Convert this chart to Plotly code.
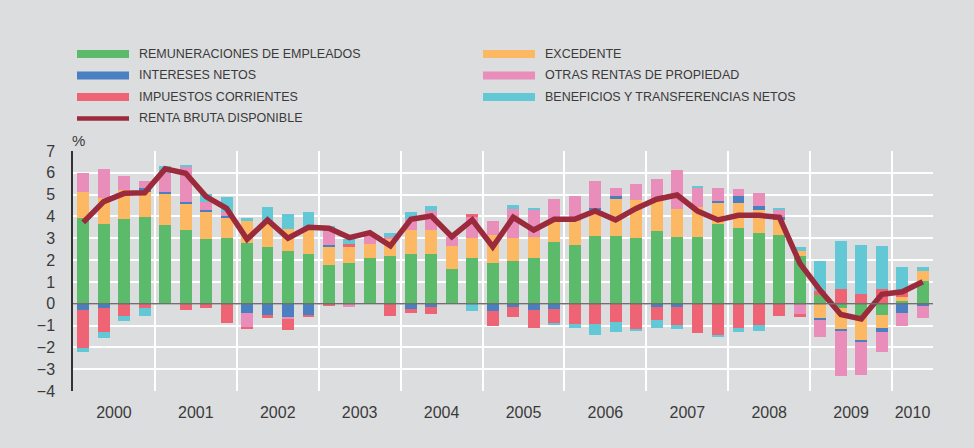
import plotly.graph_objects as go

# ---------------- data (percent contributions, quarterly 2000Q1-2010Q2) ----------------
quarters = [f"{y}Q{q}" for y in range(2000, 2011) for q in range(1, 5)][:42]

remuneraciones = [3.94, 3.64, 3.87, 3.98, 3.61, 3.38, 2.97, 3.01, 2.80, 2.61, 2.40, 2.29,
                  1.77, 1.87, 2.08, 2.20, 2.29, 2.29, 1.61, 2.08, 1.88, 1.97, 2.09, 2.83,
                  2.69, 3.10, 3.10, 3.01, 3.35, 3.06, 3.06, 3.65, 3.47, 3.24, 3.13, 2.20,
                  0.40, -0.18, -0.55, -0.52, 0.12, 1.04]
excedente = [1.17, 1.19, 1.34, 1.16, 1.41, 1.22, 1.27, 0.93, 0.98, 1.15, 1.01, 1.09,
             0.84, 0.74, 0.67, 0.77, 1.09, 1.09, 1.05, 0.95, 1.29, 1.06, 0.97, 0.95,
             1.12, 1.23, 1.69, 1.75, 1.47, 1.30, 1.37, 0.97, 1.15, 1.06, 0.71, 0.22,
             -0.67, -0.97, -1.09, -0.61, 0.20, 0.46]
intereses = [-0.29, -0.18, 0.00, 0.18, 0.10, 0.08, 0.07, 0.08, -0.44, -0.52, -0.61, -0.52,
             0.08, 0.00, 0.00, 0.00, -0.26, -0.14, 0.00, 0.00, -0.34, -0.14, -0.31, -0.23,
             0.00, 0.06, 0.13, 0.00, -0.14, -0.14, 0.00, 0.07, 0.33, 0.18, 0.14, 0.00,
             -0.08, -0.10, -0.12, -0.15, -0.41, -0.11]
otras_rentas = [0.88, 1.36, 0.66, 0.29, 0.86, 1.57, 0.37, 0.20, -0.66, 0.00, -0.09, 0.00,
                0.64, -0.15, 0.40, 0.10, 0.49, 0.86, 0.38, 0.93, 0.62, 1.33, 1.25, 1.01,
                1.13, 1.24, 0.40, 0.71, 0.90, 1.79, 0.89, 0.63, 0.31, 0.61, 0.36, -0.47,
                -0.76, -2.08, -1.51, -0.92, -0.61, -0.53]
impuestos = [-1.76, -1.13, -0.57, -0.18, 0.00, -0.28, -0.18, -0.87, -0.06, -0.15, -0.51, -0.06,
             -0.09, 0.13, 0.00, -0.57, -0.15, -0.32, 0.00, 0.15, -0.70, -0.46, -0.79, -0.66,
             -0.92, -0.92, -0.86, -1.16, -0.61, -0.84, -1.33, -1.45, -1.09, -0.99, -0.55, -0.13,
             0.18, 0.67, 0.46, 0.69, 0.23, 0.00]
beneficios = [-0.18, -0.25, -0.21, -0.39, 0.34, 0.11, 0.37, 0.67, 0.16, 0.67, 0.72, 0.82,
              0.23, 0.21, 0.00, 0.17, 0.33, 0.22, 0.00, -0.32, 0.00, 0.15, 0.08, -0.06,
              -0.18, -0.50, -0.44, -0.08, -0.37, -0.18, 0.08, -0.09, -0.19, -0.25, 0.06, 0.16,
              1.38, 2.19, 2.23, 1.97, 1.15, 0.20]
renta_bruta = [3.73, 4.68, 5.06, 5.09, 6.18, 5.98, 4.91, 4.37, 2.95, 3.84, 3.00, 3.50,
               3.46, 3.03, 3.26, 2.65, 3.87, 4.02, 3.07, 3.84, 2.61, 3.96, 3.38, 3.87,
               3.87, 4.25, 3.84, 4.37, 4.79, 4.98, 4.25, 3.84, 4.05, 4.05, 3.96, 1.85,
               0.60, -0.49, -0.70, 0.43, 0.55, 1.01]

year_labels = ["2000", "2001", "2002", "2003", "2004", "2005", "2006", "2007", "2008", "2009", "2010"]
y_ticks = [7, 6, 5, 4, 3, 2, 1, 0, -1, -2, -3, -4]

bar_series = [
    ("REMUNERACIONES DE EMPLEADOS", remuneraciones, "#5BBB6B"),
    ("EXCEDENTE", excedente, "#FDB863"),
    ("INTERESES NETOS", intereses, "#4A7FC1"),
    ("OTRAS RENTAS DE PROPIEDAD", otras_rentas, "#E98DBA"),
    ("IMPUESTOS CORRIENTES", impuestos, "#EF6474"),
    ("BENEFICIOS Y TRANSFERENCIAS NETOS", beneficios, "#62C8D5"),
]
line_name = "RENTA BRUTA DISPONIBLE"
line_color = "#9B2A3C"

# ---------------- figure ----------------
W, H = 974, 448
ML, MR, MT, MB = 73, 41, 151, 57
PW, PH = W - ML - MR, H - MT - MB
BG = "#DCDDDF"
TXT = "#3A3A3A"
FONT = "Liberation Sans, Arial, sans-serif"

x_idx = list(range(len(quarters)))
fig = go.Figure()
for name, vals, col in bar_series:
    fig.add_trace(go.Bar(x=x_idx, y=vals, name=name, marker_color=col,
                         marker_line_width=0, width=0.58, showlegend=False,
                         hovertext=quarters))
fig.add_trace(go.Scatter(x=x_idx, y=renta_bruta, name=line_name, mode="lines",
                         line=dict(color=line_color, width=5.5), showlegend=False,
                         hovertext=quarters))

# year tick positions: centre of each year's quarters
n = len(quarters)
year_pos = []
for i, _ in enumerate(year_labels):
    start = i * 4
    end = min(start + 3, n - 1)
    year_pos.append((start + end) / 2)

fig.update_layout(
    width=W, height=H,
    margin=dict(l=ML, r=MR, t=MT, b=MB, pad=0),
    paper_bgcolor=BG, plot_bgcolor=BG,
    barmode="relative", bargap=0,
    font=dict(family=FONT, color=TXT, size=16),
    showlegend=False,
    xaxis=dict(range=[-0.5, n - 0.5], tickmode="array", tickvals=year_pos,
               ticktext=year_labels, showgrid=False, zeroline=False,
               ticks="", ticklabelstandoff=10, tickfont=dict(size=16, color=TXT),
               showline=False,
               minor=dict(tick0=-0.5, dtick=4, showgrid=True, gridcolor="white",
                          gridwidth=2, ticks="")),
    yaxis=dict(range=[-4, 7], tickmode="array", tickvals=y_ticks,
               showgrid=True, gridcolor="white", gridwidth=2, zeroline=False,
               ticks="", ticklabelstandoff=13, tickfont=dict(size=16, color=TXT),
               showline=True, linecolor="#333333", linewidth=1.5),
)

# zero reference line
fig.add_shape(type="line", xref="paper", yref="y", x0=0, x1=1, y0=0, y1=0,
              line=dict(color="#707070", width=1.5), layer="above")

def px_x(px):
    return (px - ML) / PW

def px_y(py):
    return (H - MB - py) / PH

# "%" axis unit
fig.add_annotation(xref="paper", yref="paper", x=px_x(78), y=px_y(140), text="%",
                   showarrow=False, font=dict(size=15, color=TXT), xanchor="center",
                   yanchor="middle")

# manual legend (two columns)
legend_items = [(name, col, "bar") for name, _, col in bar_series] + [(line_name, line_color, "line")]
row_y = [54, 75.5, 97, 118.5]
col_x = [(77, 129, 137), (483, 535, 543)]
for k, (name, col, kind) in enumerate(legend_items):
    r, c = k // 2, k % 2
    x0, x1, xt = col_x[c]
    yc = row_y[r]
    h = 8 if kind == "bar" else 4.5
    fig.add_shape(type="rect", xref="paper", yref="paper",
                  x0=px_x(x0), x1=px_x(x1), y0=px_y(yc + h / 2), y1=px_y(yc - h / 2),
                  fillcolor=col, line=dict(width=0), layer="above")
    fig.add_annotation(xref="paper", yref="paper", x=px_x(xt), y=px_y(yc), text=name,
                       showarrow=False, xanchor="left", yanchor="middle",
                       font=dict(size=12.5, color=TXT, family=FONT))

fig.write_html("out.html", config={"displayModeBar": False},
               post_script="document.body.style.margin='0';document.body.style.overflow='hidden';")
